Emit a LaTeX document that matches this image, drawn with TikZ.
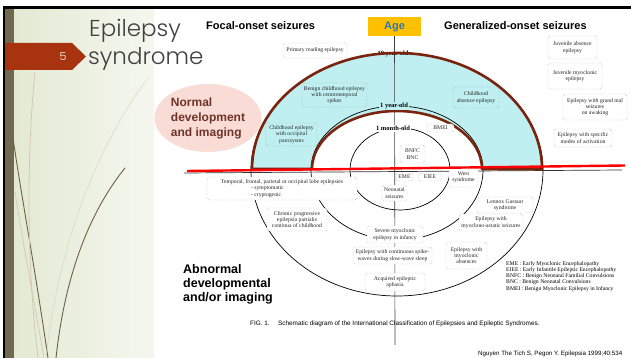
\documentclass[tikz,border=0pt]{standalone}
\usepackage{fontspec}
\setmainfont{Liberation Serif}
\setsansfont{Liberation Sans}
\IfFontExistsTF{Poppins Light}
  {\newfontfamily\slidetitlefont{Poppins Light}}
  {\newfontfamily\slidetitlefont{Poppins}}
\usetikzlibrary{shapes.geometric}
\definecolor{slideolive}{HTML}{6F6A4F}
\definecolor{panelleft}{HTML}{E4E9D3}
\definecolor{panelright}{HTML}{F5F7EF}
\definecolor{tabred}{HTML}{A7340F}
\definecolor{titlegrey}{HTML}{404040}
\definecolor{normaltext}{HTML}{6E3328}
\definecolor{normalpink}{HTML}{FADCD6}
\definecolor{agegold}{HTML}{FFC000}
\definecolor{ageblue}{HTML}{2E75B6}
\definecolor{ringcyan}{HTML}{BFEFF0}
\definecolor{ringbrown}{HTML}{7A2410}
\definecolor{boxline}{HTML}{8C8C8C}
\definecolor{bladedark}{HTML}{6B6245}
\definecolor{bladelight}{HTML}{CFCAB3}
\newcommand\synfont{\fontsize{5.7}{6.3}\selectfont}
\newcommand\agefont{\bfseries\fontsize{6.5}{7}\selectfont}
\newcommand\headfont{\sffamily\bfseries\fontsize{11}{13}\selectfont}

\begin{document}
\begin{tikzpicture}[x=1pt, y=-1pt,
  syn/.style={draw=boxline, densely dotted, rounded corners=2.5pt, fill=white,
              align=center, inner sep=0.5pt, font=\synfont, text=black!85},
  cyansyn/.style={syn, fill=ringcyan},
  agelab/.style={font=\agefont, inner sep=0.8pt, fill=white},
  ringline/.style={black, line width=0.7pt},
  brownring/.style={draw=ringbrown, line width=2.6pt, line join=round},
  axisline/.style={black!75, line width=0.6pt},
  head/.style={font=\headfont, anchor=base west, inner sep=0},
  blade/.style={line cap=round},
  note/.style={anchor=base west, inner sep=0, align=left}
]
\clip (0,0) rectangle (631,358);
\fill[white] (0,0) rectangle (631,358);
% ----- slide frame: stripe, panel, grass -----
\shade[left color=panelleft, right color=panelright] (14,9) rectangle (154,358);
\fill[slideolive] (5,9) rectangle (14,358);
\draw[blade, bladedark, line width=0.9pt] (13,138) .. controls (22,200) and (34,262) .. (48,358);
\draw[blade, bladelight, line width=0.8pt] (35,72) .. controls (27,150) and (26,260) .. (38,358);
\draw[blade, bladedark, line width=0.9pt] (125,168) .. controls (95,205) and (66,265) .. (56,358);
\draw[blade, bladelight!70!white, line width=0.6pt] (148,78) .. controls (105,135) and (60,230) .. (46,358);
\draw[blade, bladelight, line width=0.7pt] (15,192) .. controls (24,250) and (34,300) .. (44,358);
\draw[black, line width=2.5pt] (3,7.5) -- (631,7.5);
\draw[black, line width=2pt] (4,7) -- (4,358);
\fill[tabred] (5,43) -- (72,43) -- (86,56.5) -- (72,70) -- (5,70) -- cycle;
\node[font=\slidetitlefont\fontsize{11}{13}\selectfont, text=white] (slideno) at (63,57) {5};
\node[anchor=base west, inner sep=0, text=titlegrey,
      font=\slidetitlefont\fontsize{23}{27}\selectfont] (title1) at (89,37) {Epilepsy};
\node[anchor=base west, inner sep=0, text=titlegrey,
      font=\slidetitlefont\fontsize{23}{27}\selectfont] (title2) at (88,65) {syndrome};
% ----- side notes -----
\node[ellipse, fill=normalpink, minimum width=107pt, minimum height=68pt, inner sep=0,
      align=left, text=normaltext, font=\sffamily\bfseries\fontsize{12}{15}\selectfont]
      (normal) at (208,118) {Normal\\development\\and imaging};
\node[anchor=north west, inner sep=0, align=left,
      font=\sffamily\bfseries\fontsize{12.5}{14}\selectfont]
      (abnormal) at (183,264) {Abnormal\\developmental\\and/or imaging};
% ----- headings -----
\node[head] (focal) at (206,30) {Focal-onset seizures};
\node[head] (general) at (444,30) {Generalized-onset seizures};
\node[fill=agegold, minimum width=53pt, minimum height=19pt, inner sep=0,
      text=ageblue, font=\headfont] (age) at (394.5,26.5) {Age};
% ----- age rings -----
\fill[ringcyan] (252,169) arc[start angle=180, end angle=0, x radius=145pt, y radius=116pt]
  -- (482,169) arc[start angle=0, end angle=180, x radius=85pt, y radius=58pt] -- cycle;
\draw[ringline] (251,170) arc[start angle=180, end angle=0, x radius=146pt, y radius=117pt]
  arc[start angle=0, end angle=-180, x radius=146pt, y radius=126pt];
\draw[ringline] (311,170) arc[start angle=180, end angle=0, x radius=86pt, y radius=64pt]
  arc[start angle=0, end angle=-180, x radius=86pt, y radius=70pt];
\draw[ringline] (350,170) arc[start angle=180, end angle=0, x radius=50pt, y radius=42pt]
  arc[start angle=0, end angle=-180, x radius=50pt, y radius=40pt];
\draw[black!80, line width=0.7pt] (184,173) -- (622,170);
\coordinate (axend) at (395,345);
\draw[axisline] (age.south) -- (axend);
\node[agelab, fill=none] (tenyear) at (393,54) {10 year-old};
\draw[brownring] (252,169) arc[start angle=180, end angle=0, x radius=145pt, y radius=116pt]
  -- (482,169) arc[start angle=0, end angle=180, x radius=85pt, y radius=58pt] -- cycle;
\node[agelab, fill=ringcyan] (oneyear) at (394,106) {1 year-old};
\node[agelab] (onemonth) at (393,128.5) {1 month-old};
% ----- focal-onset syndromes -----
\node[syn, minimum width=64pt, minimum height=15pt] (prim) at (315,50.5) {Primary reading epilepsy};
\node[cyansyn, minimum width=65pt, minimum height=24pt] (bcect) at (334.5,95)
  {Benign childhood epilepsy\\with centrotemporal\\spikes};
\node[cyansyn, minimum width=51pt, minimum height=23pt] (cosp) at (291.5,134.5)
  {Childhood epilepsy\\with occipital\\paroxysms};
\node[syn, minimum width=150pt, minimum height=23pt] (tfpo) at (282,188.5)
  {Temporal, frontal, parietal or occipital lobe epilepsies\\
   \makebox[62pt][l]{- symptomatic}\\\makebox[62pt][l]{- cryptogenic}};
\node[syn, minimum width=60pt, minimum height=23pt] (cpepc) at (297,219.5)
  {Chronic progressive\\epilepsia partialis\\continua of childhood};
% ----- syndromes on the age axis -----
\node[syn, minimum width=25pt, minimum height=18pt] (bnfc) at (412.5,154) {BNFC\\BNC};
\node[syn, minimum width=27pt, minimum height=8pt] (bmei) at (440.5,128) {BMEI};
\node[syn, minimum width=17pt, minimum height=8pt] (eme) at (404.5,177) {EME};
\node[syn, minimum width=23pt, minimum height=8pt] (eiee) at (430,177) {EIEE};
\node[syn, minimum width=25pt, minimum height=16pt] (neo) at (394.5,193) {Neonatal\\seizures};
\node[syn, minimum width=56pt, minimum height=17pt] (smei) at (395,234.5)
  {Severe myoclonic\\epilepsy in infancy};
\node[syn, minimum width=79pt, minimum height=17pt] (csws) at (392.5,255.5)
  {Epilepsy with continuous spike-\\waves during slow-wave sleep};
\node[syn, minimum width=60pt, minimum height=18pt] (aea) at (395,282)
  {Acquired epileptic\\aphasia};
% ----- generalized-onset syndromes -----
\node[cyansyn, minimum width=46pt, minimum height=21pt] (cae) at (476,97.5)
  {Childhood\\absence epilepsy};
\node[syn, minimum width=29pt, minimum height=20pt] (west) at (463.5,177) {West\\syndrome};
\node[syn, minimum width=56pt, minimum height=16pt] (lgs) at (505,205) {Lennox Gastaut\\syndrome};
\node[syn, minimum width=64pt, minimum height=17pt] (emas) at (491,222.5)
  {Epilepsy with\\myoclono-astatic seizures};
\node[syn, minimum width=41pt, minimum height=27pt] (ema) at (466.5,255.5)
  {Epilepsy with\\myoclonic\\absences};
\node[syn, minimum width=49pt, minimum height=23pt] (jae) at (572.5,47.5)
  {Juvenile absence\\epilepsy};
\node[syn, minimum width=54pt, minimum height=26pt] (jme) at (575,76)
  {Juvenile myoclonic\\epilepsy};
\node[syn, minimum width=64pt, minimum height=26pt] (egma) at (595,107)
  {Epilepsy with grand mal\\seizures\\on awaking};
\node[syn, minimum width=58pt, minimum height=18pt] (esma) at (583,138)
  {Epilepsy with specific\\modes of activation};
% ----- red marker over the baseline -----
\draw[red, line width=2.4pt] (187,171) -- (625,165.5);
% ----- legend and caption -----
\node[note, font=\fontsize{5.7}{6.2}\selectfont] (legend) at (506,290)
  {EME : Early Myoclonic Encephalopathy\\
   EIEE : Early Infantile Epileptic Encephalopathy\\
   BNFC : Benign Neonatal Familial Convulsions\\
   BNC : Benign Neonatal Convulsions\\
   BMEI : Benign Myoclonic Epilepsy in Infancy};
\node[note, font=\sffamily\fontsize{6.4}{7}\selectfont] (caption) at (250,325)
  {FIG. 1.\hspace{6pt} Schematic diagram of the International Classification of Epilepsies and Epileptic Syndromes.};
\node[note, font=\sffamily\fontsize{6.2}{7}\selectfont] (source) at (478,355.5)
  {Nguyen The Tich S, Pegon Y. Epilepsia 1999;40:534};
\end{tikzpicture}
\end{document}
